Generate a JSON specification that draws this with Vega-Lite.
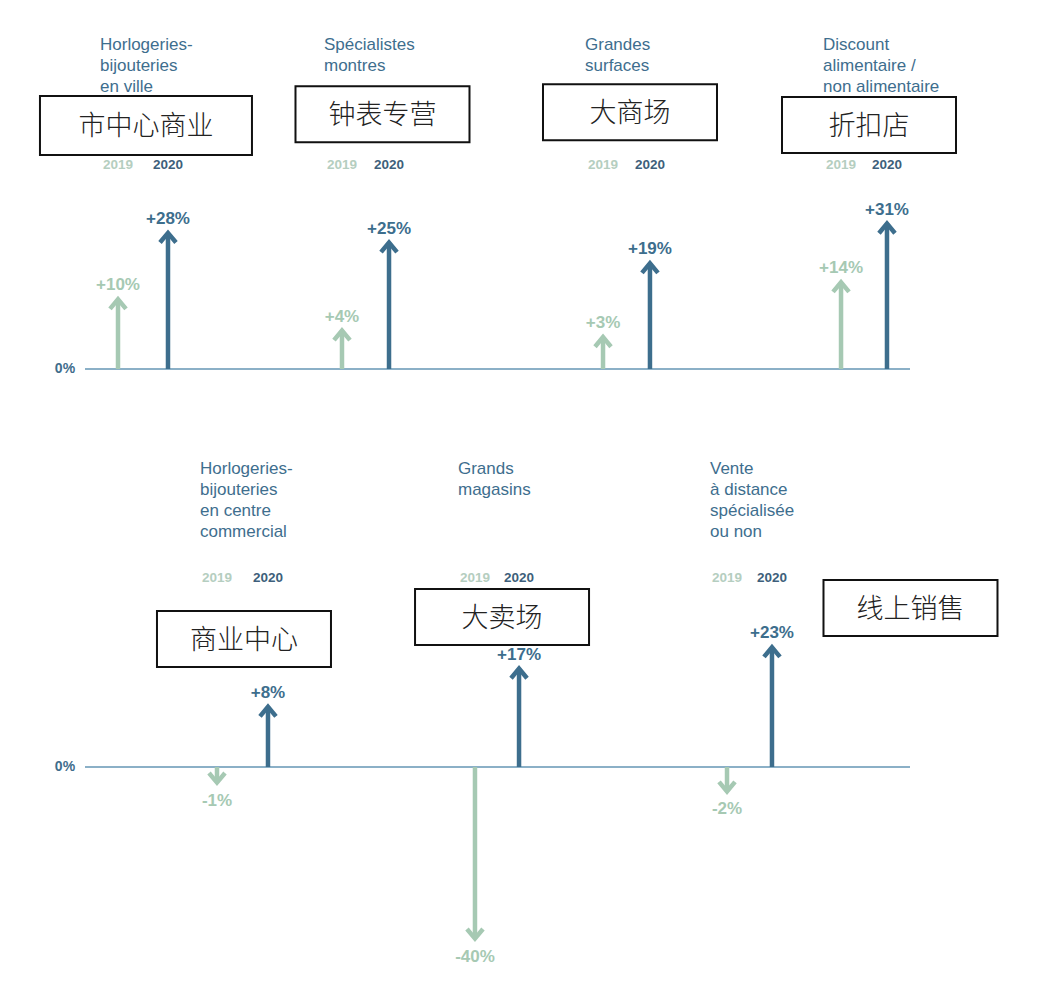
{
  "$schema": "https://vega.github.io/schema/vega-lite/v6.json",
  "width": 1042,
  "height": 999,
  "autosize": {"type": "fit", "contains": "padding"},
  "padding": 0,
  "background": "#ffffff",
  "config": {
    "view": {"stroke": null},
    "text": {"font": "Liberation Sans"},
    "locale": {"number": {"decimal": ".", "thousands": ",", "grouping": [3], "currency": ["$", ""], "minus": "-"}}
  },
  "datasets": {
    "arrows": [
      {"row": "top", "cat": "c1", "year": "2019", "pos": 4.0, "value": 0.10},
      {"row": "top", "cat": "c1", "year": "2020", "pos": 10.06, "value": 0.28},
      {"row": "top", "cat": "c2", "year": "2019", "pos": 31.15, "value": 0.04},
      {"row": "top", "cat": "c2", "year": "2020", "pos": 36.85, "value": 0.25},
      {"row": "top", "cat": "c3", "year": "2019", "pos": 62.79, "value": 0.03},
      {"row": "top", "cat": "c3", "year": "2020", "pos": 68.48, "value": 0.19},
      {"row": "top", "cat": "c4", "year": "2019", "pos": 91.64, "value": 0.14},
      {"row": "top", "cat": "c4", "year": "2020", "pos": 97.21, "value": 0.31},
      {"row": "bottom", "cat": "c5", "year": "2019", "pos": 16.0, "value": -0.01},
      {"row": "bottom", "cat": "c5", "year": "2020", "pos": 22.18, "value": 0.08},
      {"row": "bottom", "cat": "c6", "year": "2019", "pos": 47.27, "value": -0.40},
      {"row": "bottom", "cat": "c6", "year": "2020", "pos": 52.61, "value": 0.17},
      {"row": "bottom", "cat": "c7", "year": "2019", "pos": 77.82, "value": -0.02},
      {"row": "bottom", "cat": "c7", "year": "2020", "pos": 83.27, "value": 0.23}
    ],
    "cats": [
      {"row": "top", "title": "Horlogeries-\nbijouteries\nen ville", "zh": "市中心商业", "p19": 4.0, "bx": 7.39, "by": 0.6854},
      {"row": "top", "title": "Spécialistes\nmontres", "zh": "钟表专营", "p19": 31.15, "bx": 36.06, "by": 0.7349},
      {"row": "top", "title": "Grandes\nsurfaces", "zh": "大商场", "p19": 62.79, "bx": 66.06, "by": 0.7439},
      {"row": "top", "title": "Discount\nalimentaire /\nnon alimentaire", "zh": "折扣店", "p19": 91.64, "bx": 95.03, "by": 0.6876},
      {"row": "bottom", "title": "Horlogeries-\nbijouteries\nen centre\ncommercial", "zh": "商业中心", "p19": 16.0, "bx": 19.27, "by": 0.2549},
      {"row": "bottom", "title": "Grands\nmagasins", "zh": "大卖场", "p19": 47.27, "bx": 50.55, "by": 0.3253},
      {"row": "bottom", "title": "Vente\nà distance\nspécialisée\nou non", "zh": "线上销售", "p19": 77.82, "bx": 100.06, "by": 0.3558}
    ]
  },
  "layer": [
    {
      "layer": [
        {
          "data": {"name": "cats"},
          "transform": [{"filter": "datum.row === 'top'"}],
          "mark": {"type": "point", "filled": true, "opacity": 1, "fill": "#ffffff", "stroke": "#111111", "strokeWidth": 2, "size": 30276},
          "encoding": {
            "x": {"field": "bx", "type": "quantitative", "scale": {"domain": [-10.303, 116], "nice": false, "zero": false}, "axis": null},
            "y": {"field": "by", "type": "quantitative", "scale": {"type": "pow", "exponent": 0.65, "domain": [-2.9588, 1.2992], "nice": false, "zero": false}, "axis": null},
            "shape": {"condition": {"test": "length(datum.zh) > 4", "value": "M-1.2184,-0.3391L1.2184,-0.3391L1.2184,0.3391L-1.2184,0.3391Z"}, "value": "M-1,-0.3218L1,-0.3218L1,0.3218L-1,0.3218Z"}
          }
        },
        {
          "data": {"name": "cats"},
          "transform": [{"filter": "datum.row === 'top'"}],
          "mark": {"type": "text", "align": "center", "baseline": "middle", "dy": 2, "fontSize": 27, "font": "Noto Sans CJK SC", "fontWeight": 300, "color": "#222222"},
          "encoding": {
            "x": {"field": "bx", "type": "quantitative", "scale": {"domain": [-10.303, 116], "nice": false, "zero": false}, "axis": null},
            "y": {"field": "by", "type": "quantitative", "scale": {"type": "pow", "exponent": 0.65, "domain": [-2.9588, 1.2992], "nice": false, "zero": false}, "axis": null},
            "text": {"field": "zh", "type": "nominal"}
          }
        },
        {
          "data": {"values": [{}]},
          "mark": {"type": "rule", "color": "#8bb0c7", "strokeWidth": 2},
          "encoding": {
            "x": {"datum": 0, "type": "quantitative", "scale": {"domain": [-10.303, 116], "nice": false, "zero": false}, "axis": null},
            "x2": {"datum": 100},
            "y": {"datum": 0, "type": "quantitative", "scale": {"type": "pow", "exponent": 0.65, "domain": [-2.9588, 1.2992], "nice": false, "zero": false}, "axis": null}
          }
        },
        {
          "data": {"values": [{}]},
          "mark": {"type": "text", "align": "right", "baseline": "middle", "fontSize": 14, "fontWeight": "bold", "color": "#3f6d8c", "text": "0%"},
          "encoding": {
            "x": {"datum": -1.2, "type": "quantitative", "scale": {"domain": [-10.303, 116], "nice": false, "zero": false}, "axis": null},
            "y": {"datum": 0, "type": "quantitative", "scale": {"type": "pow", "exponent": 0.65, "domain": [-2.9588, 1.2992], "nice": false, "zero": false}, "axis": null}
          }
        },
        {
          "data": {"name": "arrows"},
          "transform": [{"filter": "datum.row === 'top'"}],
          "mark": {"type": "rule", "strokeWidth": 4.5},
          "encoding": {
            "x": {"field": "pos", "type": "quantitative", "scale": {"domain": [-10.303, 116], "nice": false, "zero": false}, "axis": null},
            "y": {"field": "value", "type": "quantitative", "scale": {"type": "pow", "exponent": 0.65, "domain": [-2.9588, 1.2992], "nice": false, "zero": false}, "axis": null},
            "y2": {"datum": 0},
            "color": {"condition": {"test": "datum.year === '2019'", "value": "#a6c9b3"}, "value": "#3d6e8d"}
          }
        },
        {
          "data": {"name": "arrows"},
          "transform": [{"filter": "datum.row === 'top'"}],
          "mark": {"type": "point", "filled": false, "opacity": 1, "strokeWidth": 4.5, "size": 256, "shape": "M-1,1.2L0,0L1,1.2", "strokeJoin": "miter"},
          "encoding": {
            "x": {"field": "pos", "type": "quantitative", "scale": {"domain": [-10.303, 116], "nice": false, "zero": false}, "axis": null},
            "y": {"field": "value", "type": "quantitative", "scale": {"type": "pow", "exponent": 0.65, "domain": [-2.9588, 1.2992], "nice": false, "zero": false}, "axis": null},
            "angle": {"condition": {"test": "datum.value < 0", "value": 180}, "value": 0},
            "color": {"condition": {"test": "datum.year === '2019'", "value": "#a6c9b3"}, "value": "#3d6e8d"}
          }
        },
        {
          "data": {"name": "arrows"},
          "transform": [{"filter": "datum.row === 'top' && datum.value > 0"}],
          "mark": {"type": "text", "align": "center", "baseline": "alphabetic", "dy": -9, "fontSize": 17, "fontWeight": "bold"},
          "encoding": {
            "x": {"field": "pos", "type": "quantitative", "scale": {"domain": [-10.303, 116], "nice": false, "zero": false}, "axis": null},
            "y": {"field": "value", "type": "quantitative", "scale": {"type": "pow", "exponent": 0.65, "domain": [-2.9588, 1.2992], "nice": false, "zero": false}, "axis": null},
            "text": {"field": "value", "type": "quantitative", "format": "+.0%"},
            "color": {"condition": {"test": "datum.year === '2019'", "value": "#a6c9b3"}, "value": "#3d6e8d"}
          }
        },
        {
          "data": {"name": "arrows"},
          "transform": [{"filter": "datum.row === 'top'"}],
          "mark": {"type": "text", "align": "center", "baseline": "middle", "fontSize": 13.5, "fontWeight": "bold"},
          "encoding": {
            "x": {"field": "pos", "type": "quantitative", "scale": {"domain": [-10.303, 116], "nice": false, "zero": false}, "axis": null},
            "y": {"datum": 0.522, "type": "quantitative", "scale": {"type": "pow", "exponent": 0.65, "domain": [-2.9588, 1.2992], "nice": false, "zero": false}, "axis": null},
            "text": {"field": "year", "type": "nominal"},
            "color": {"condition": {"test": "datum.year === '2019'", "value": "#b5cec0"}, "value": "#3e5f7b"}
          }
        },
        {
          "data": {"name": "cats"},
          "transform": [{"filter": "datum.row === 'top'"}],
          "mark": {"type": "text", "align": "left", "baseline": "top", "dx": -18, "fontSize": 17, "lineHeight": 21, "lineBreak": "\n", "color": "#3e6e8e"},
          "encoding": {
            "x": {"field": "p19", "type": "quantitative", "scale": {"domain": [-10.303, 116], "nice": false, "zero": false}, "axis": null},
            "y": {"datum": 1.1043, "type": "quantitative", "scale": {"type": "pow", "exponent": 0.65, "domain": [-2.9588, 1.2992], "nice": false, "zero": false}, "axis": null},
            "text": {"field": "title", "type": "nominal"}
          }
        }
      ]
    },
    {
      "layer": [
        {
          "data": {"name": "cats"},
          "transform": [{"filter": "datum.row === 'bottom'"}],
          "mark": {"type": "point", "filled": true, "opacity": 1, "fill": "#ffffff", "stroke": "#111111", "strokeWidth": 2, "size": 30276},
          "encoding": {
            "x": {"field": "bx", "type": "quantitative", "scale": {"domain": [-10.303, 116], "nice": false, "zero": false}, "axis": null},
            "y": {"field": "by", "type": "quantitative", "scale": {"type": "pow", "exponent": 0.65, "domain": [-0.6363, 4.0047], "nice": false, "zero": false}, "axis": null},
            "shape": {"condition": {"test": "length(datum.zh) > 4", "value": "M-1.2184,-0.3391L1.2184,-0.3391L1.2184,0.3391L-1.2184,0.3391Z"}, "value": "M-1,-0.3218L1,-0.3218L1,0.3218L-1,0.3218Z"}
          }
        },
        {
          "data": {"name": "cats"},
          "transform": [{"filter": "datum.row === 'bottom'"}],
          "mark": {"type": "text", "align": "center", "baseline": "middle", "dy": 2, "fontSize": 27, "font": "Noto Sans CJK SC", "fontWeight": 300, "color": "#222222"},
          "encoding": {
            "x": {"field": "bx", "type": "quantitative", "scale": {"domain": [-10.303, 116], "nice": false, "zero": false}, "axis": null},
            "y": {"field": "by", "type": "quantitative", "scale": {"type": "pow", "exponent": 0.65, "domain": [-0.6363, 4.0047], "nice": false, "zero": false}, "axis": null},
            "text": {"field": "zh", "type": "nominal"}
          }
        },
        {
          "data": {"values": [{}]},
          "mark": {"type": "rule", "color": "#8bb0c7", "strokeWidth": 2},
          "encoding": {
            "x": {"datum": 0, "type": "quantitative", "scale": {"domain": [-10.303, 116], "nice": false, "zero": false}, "axis": null},
            "x2": {"datum": 100},
            "y": {"datum": 0, "type": "quantitative", "scale": {"type": "pow", "exponent": 0.65, "domain": [-0.6363, 4.0047], "nice": false, "zero": false}, "axis": null}
          }
        },
        {
          "data": {"values": [{}]},
          "mark": {"type": "text", "align": "right", "baseline": "middle", "fontSize": 14, "fontWeight": "bold", "color": "#3f6d8c", "text": "0%"},
          "encoding": {
            "x": {"datum": -1.2, "type": "quantitative", "scale": {"domain": [-10.303, 116], "nice": false, "zero": false}, "axis": null},
            "y": {"datum": 0, "type": "quantitative", "scale": {"type": "pow", "exponent": 0.65, "domain": [-0.6363, 4.0047], "nice": false, "zero": false}, "axis": null}
          }
        },
        {
          "data": {"name": "arrows"},
          "transform": [{"filter": "datum.row === 'bottom'"}],
          "mark": {"type": "rule", "strokeWidth": 4.5},
          "encoding": {
            "x": {"field": "pos", "type": "quantitative", "scale": {"domain": [-10.303, 116], "nice": false, "zero": false}, "axis": null},
            "y": {"field": "value", "type": "quantitative", "scale": {"type": "pow", "exponent": 0.65, "domain": [-0.6363, 4.0047], "nice": false, "zero": false}, "axis": null},
            "y2": {"datum": 0},
            "color": {"condition": {"test": "datum.year === '2019'", "value": "#a6c9b3"}, "value": "#3d6e8d"}
          }
        },
        {
          "data": {"name": "arrows"},
          "transform": [{"filter": "datum.row === 'bottom'"}],
          "mark": {"type": "point", "filled": false, "opacity": 1, "strokeWidth": 4.5, "size": 256, "shape": "M-1,1.2L0,0L1,1.2", "strokeJoin": "miter"},
          "encoding": {
            "x": {"field": "pos", "type": "quantitative", "scale": {"domain": [-10.303, 116], "nice": false, "zero": false}, "axis": null},
            "y": {"field": "value", "type": "quantitative", "scale": {"type": "pow", "exponent": 0.65, "domain": [-0.6363, 4.0047], "nice": false, "zero": false}, "axis": null},
            "angle": {"condition": {"test": "datum.value < 0", "value": 180}, "value": 0},
            "color": {"condition": {"test": "datum.year === '2019'", "value": "#a6c9b3"}, "value": "#3d6e8d"}
          }
        },
        {
          "data": {"name": "arrows"},
          "transform": [{"filter": "datum.row === 'bottom' && datum.value > 0"}],
          "mark": {"type": "text", "align": "center", "baseline": "alphabetic", "dy": -9, "fontSize": 17, "fontWeight": "bold"},
          "encoding": {
            "x": {"field": "pos", "type": "quantitative", "scale": {"domain": [-10.303, 116], "nice": false, "zero": false}, "axis": null},
            "y": {"field": "value", "type": "quantitative", "scale": {"type": "pow", "exponent": 0.65, "domain": [-0.6363, 4.0047], "nice": false, "zero": false}, "axis": null},
            "text": {"field": "value", "type": "quantitative", "format": "+.0%"},
            "color": {"condition": {"test": "datum.year === '2019'", "value": "#a6c9b3"}, "value": "#3d6e8d"}
          }
        },
        {
          "data": {"name": "arrows"},
          "transform": [{"filter": "datum.row === 'bottom' && datum.value < 0"}],
          "mark": {"type": "text", "align": "center", "baseline": "top", "dy": 10, "fontSize": 17, "fontWeight": "bold"},
          "encoding": {
            "x": {"field": "pos", "type": "quantitative", "scale": {"domain": [-10.303, 116], "nice": false, "zero": false}, "axis": null},
            "y": {"field": "value", "type": "quantitative", "scale": {"type": "pow", "exponent": 0.65, "domain": [-0.6363, 4.0047], "nice": false, "zero": false}, "axis": null},
            "text": {"field": "value", "type": "quantitative", "format": ".0%"},
            "color": {"condition": {"test": "datum.year === '2019'", "value": "#a6c9b3"}, "value": "#3d6e8d"}
          }
        },
        {
          "data": {"name": "arrows"},
          "transform": [{"filter": "datum.row === 'bottom'"}],
          "mark": {"type": "text", "align": "center", "baseline": "middle", "fontSize": 13.5, "fontWeight": "bold"},
          "encoding": {
            "x": {"field": "pos", "type": "quantitative", "scale": {"domain": [-10.303, 116], "nice": false, "zero": false}, "axis": null},
            "y": {"datum": 0.4642, "type": "quantitative", "scale": {"type": "pow", "exponent": 0.65, "domain": [-0.6363, 4.0047], "nice": false, "zero": false}, "axis": null},
            "text": {"field": "year", "type": "nominal"},
            "color": {"condition": {"test": "datum.year === '2019'", "value": "#b5cec0"}, "value": "#3e5f7b"}
          }
        },
        {
          "data": {"name": "cats"},
          "transform": [{"filter": "datum.row === 'bottom'"}],
          "mark": {"type": "text", "align": "left", "baseline": "top", "dx": -17, "fontSize": 17, "lineHeight": 21, "lineBreak": "\n", "color": "#3e6e8e"},
          "encoding": {
            "x": {"field": "p19", "type": "quantitative", "scale": {"domain": [-10.303, 116], "nice": false, "zero": false}, "axis": null},
            "y": {"datum": 0.9717, "type": "quantitative", "scale": {"type": "pow", "exponent": 0.65, "domain": [-0.6363, 4.0047], "nice": false, "zero": false}, "axis": null},
            "text": {"field": "title", "type": "nominal"}
          }
        }
      ]
    }
  ],
  "resolve": {"scale": {"y": "independent"}}
}
